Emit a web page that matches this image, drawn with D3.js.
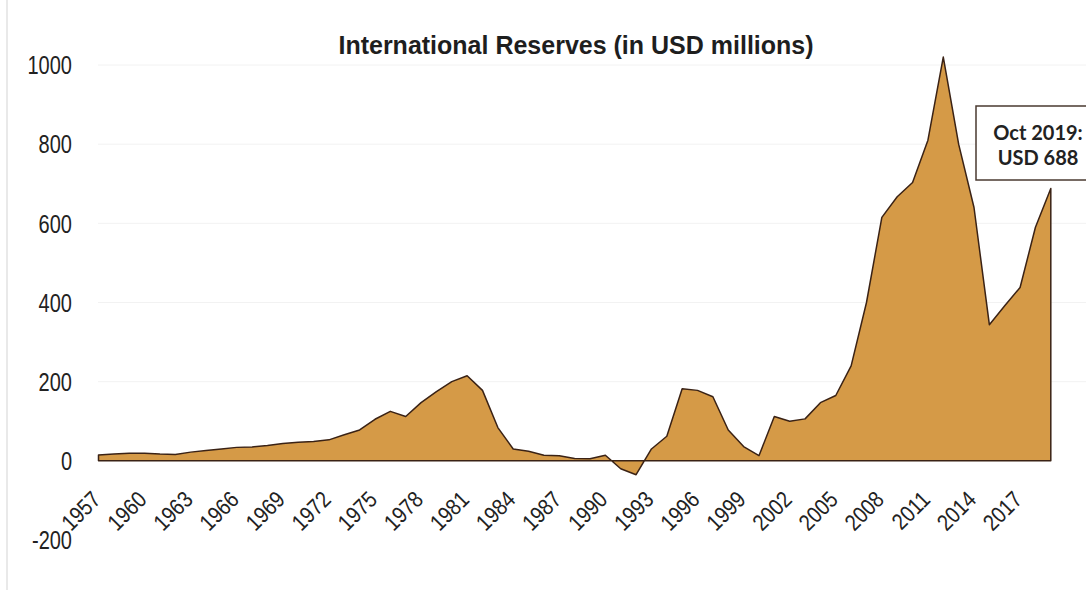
<!DOCTYPE html>
<html>
<head>
<meta charset="utf-8">
<script src="https://cdn.jsdelivr.net/npm/d3@7"></script>
<style>
  html, body { margin: 0; padding: 0; background: #ffffff; }
  #chart { width: 1086px; height: 590px; }
  text { font-family: "Liberation Sans", Arial, sans-serif; }
</style>
</head>
<body>
<div id="chart"></div>
<script>
// data (USD millions, year end)
const years = [
  1957, 1958, 1959, 1960, 1961, 1962, 1963, 1964, 1965, 1966,
  1967, 1968, 1969, 1970, 1971, 1972, 1973, 1974, 1975, 1976,
  1977, 1978, 1979, 1980, 1981, 1982, 1983, 1984, 1985, 1986,
  1987, 1988, 1989, 1990, 1991, 1992, 1993, 1994, 1995, 1996,
  1997, 1998, 1999, 2000, 2001, 2002, 2003, 2004, 2005, 2006,
  2007, 2008, 2009, 2010, 2011, 2012, 2013, 2014, 2015, 2016,
  2017, 2018, 2019
];
const reserves = [
  15, 17, 19, 19, 17, 16, 22, 26, 30, 34,
  35, 39, 44, 47, 49, 53, 66, 78, 105, 125,
  112, 147, 175, 200, 215, 178, 84, 30, 24, 14,
  13, 6, 5, 14, -20, -35, 30, 62, 182, 178,
  162, 78, 36, 13, 112, 100, 106, 147, 165, 240,
  400, 615, 667, 703, 810, 1020, 800, 640, 344, 392,
  438, 590, 688
];
const xTicks = [1957, 1960, 1963, 1966, 1969, 1972, 1975, 1978, 1981, 1984,
  1987, 1990, 1993, 1996, 1999, 2002, 2005, 2008, 2011, 2014, 2017];
const yTicks = [-200, 0, 200, 400, 600, 800, 1000];
const title = "International Reserves (in USD millions)";
const noteLines = ["Oct 2019:", "USD 688"];

const W = 1086, H = 590;

// squeeze Liberation Sans into something like Arial Narrow
function condense(sel, k) {
  sel.each(function () {
    const len = this.getComputedTextLength();
    d3.select(this)
      .attr("textLength", len * k)
      .attr("lengthAdjust", "spacingAndGlyphs");
  });
}

const svg = d3.select("#chart")
  .append("svg")
  .attr("width", W)
  .attr("height", H);

const data = years.map((y, i) => ({ year: y, value: reserves[i] }));

// =========================
// SCALES
// =========================
const x = d3.scaleLinear()
  .domain([1957, 2019])
  .range([98.5, 1050.8]);

const y = d3.scaleLinear()
  .domain([-200, 1000])
  .range([540, 65]);

// faint page edge on the left
svg.append("line")
  .attr("x1", 7).attr("x2", 7)
  .attr("y1", 0).attr("y2", H)
  .attr("stroke", "#e2e2e2")
  .attr("stroke-width", 1.5);

// =========================
// GRID (very faint)
// =========================
svg.append("g")
  .selectAll("line")
  .data(yTicks.filter(d => d > 0))
  .enter()
  .append("line")
  .attr("x1", 98).attr("x2", W)
  .attr("y1", d => y(d)).attr("y2", d => y(d))
  .attr("stroke", "#f2f2f2")
  .attr("stroke-width", 1);

// =========================
// AREA
// =========================
const area = d3.area()
  .x(d => x(d.year))
  .y0(y(0))
  .y1(d => y(d.value));

svg.append("path")
  .datum(data)
  .attr("fill", "#d59a47")
  .attr("stroke", "#3a2215")
  .attr("stroke-width", 1.5)
  .attr("stroke-linejoin", "round")
  .attr("d", area);

// =========================
// AXES
// =========================
const yAxis = svg.append("g")
  .attr("transform", "translate(72,0)")
  .call(d3.axisLeft(y).tickValues(yTicks).tickFormat(d => String(d)).tickSize(0).tickPadding(0));
yAxis.select(".domain").remove();
yAxis.selectAll("text")
  .style("font-size", "25px")
  .style("fill", "#222")
  .attr("dy", "0.35em")
  .call(condense, 0.8);

const xAxis = svg.append("g")
  .attr("transform", "translate(0,476)")
  .call(d3.axisBottom(x).tickValues(xTicks).tickFormat(d3.format("d")).tickSize(0).tickPadding(0));
xAxis.select(".domain").remove();
xAxis.selectAll("text")
  .style("font-size", "23px")
  .style("fill", "#222")
  .attr("text-anchor", "end")
  .attr("x", 0)
  .attr("y", 0)
  .attr("dy", 0)
  .attr("transform", "translate(3,25) rotate(-45)")
  .call(condense, 0.86);

// =========================
// TITLE
// =========================
svg.append("text")
  .attr("x", 576)
  .attr("y", 54)
  .attr("text-anchor", "middle")
  .style("font-size", "25px")
  .style("font-weight", "bold")
  .style("fill", "#1e1e1e")
  .text(title);

// =========================
// CALLOUT
// =========================
const note = svg.append("g");
note.append("rect")
  .attr("x", 976).attr("y", 106)
  .attr("width", 130).attr("height", 74)
  .attr("fill", "#ffffff")
  .attr("stroke", "#4a3a30")
  .attr("stroke-width", 1.5);

note.selectAll("text")
  .data(noteLines)
  .enter()
  .append("text")
  .attr("x", 1038)
  .attr("y", (d, i) => 140 + i * 25)
  .attr("text-anchor", "middle")
  .style("font-family", "Lato, 'Open Sans', sans-serif")
  .style("font-weight", "bold")
  .style("font-size", "20px")
  .style("fill", "#222")
  .text(d => d);
</script>
</body>
</html>
